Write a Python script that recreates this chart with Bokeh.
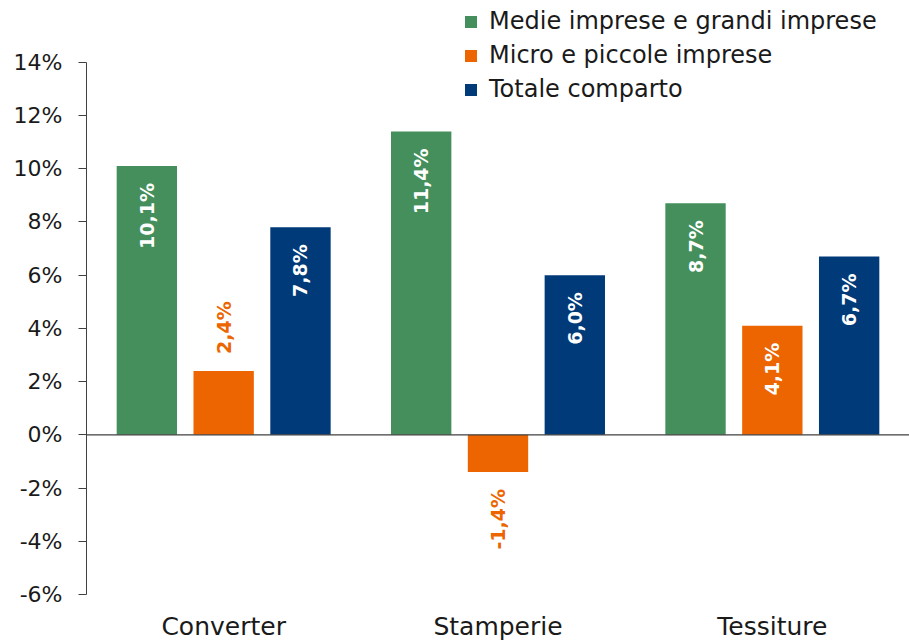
import math
from bokeh.plotting import figure
from bokeh.models import ColumnDataSource, FactorRange, Range1d, FixedTicker, PrintfTickFormatter, Span, Legend, LegendItem
from bokeh.transform import dodge
from bokeh.core.properties import value
from bokeh.embed import file_html
from bokeh.resources import INLINE

categories = ["Converter", "Stamperie", "Tessiture"]
series_names = ["Medie imprese e grandi imprese", "Micro e piccole imprese", "Totale comparto"]
medie = [10.1, 11.4, 8.7]
micro = [2.4, -1.4, 4.1]
totale = [7.8, 6.0, 6.7]
y_ticks = [-6, -4, -2, 0, 2, 4, 6, 8, 10, 12, 14]

colors = ["#448F5B", "#EC6500", "#003A78"]
FONT = "DejaVu Sans"

Y_END = 16.32
p = figure(x_range=FactorRange(*categories), y_range=Range1d(-6, Y_END),
           width=909, height=643, output_backend="svg", toolbar_location=None,
           min_border_left=86, min_border_right=0, min_border_top=0, min_border_bottom=47)
p.outline_line_color = None
p.xgrid.grid_line_color = None
p.ygrid.grid_line_color = None

src = ColumnDataSource(dict(cat=categories, medie=medie, micro=micro, totale=totale))
offsets = [-0.28, 0.0, 0.28]
fields = ["medie", "micro", "totale"]
renderers = []
for f, off, c in zip(fields, offsets, colors):
    r = p.vbar(x=dodge("cat", off, range=p.x_range), top=f, bottom=0, width=0.22,
               source=src, fill_color=c, line_color=None)
    renderers.append(r)

# value labels
px_per_unit = 596 / (Y_END + 6)
gap = 17 / px_per_unit
for f, off, c, vals in zip(fields, offsets, colors, [medie, micro, totale]):
    ys, aligns, tcols, txts = [], [], [], []
    for cat, v in zip(categories, vals):
        txt = ("%.1f%%" % v).replace(".", ",")
        if f == "micro" and (v < 3):
            if v >= 0:
                ys.append(v + gap); aligns.append("left")
            else:
                ys.append(v - gap); aligns.append("right")
            tcols.append(c)
        else:
            ys.append(v - gap); aligns.append("right"); tcols.append("white")
        txts.append(txt)
    lsrc = ColumnDataSource(dict(cat=categories, y=ys, t=txts, a=aligns, c=tcols))
    p.text(x=dodge("cat", off, range=p.x_range), y="y", text="t", source=lsrc,
           angle=math.pi / 2, text_align="a", text_baseline="middle", text_color="c",
           text_font=value(FONT), text_font_size="19px", text_font_style="bold")

p.add_layout(Span(location=0, dimension="width", line_color="#404040", line_width=1.2))

yax = p.yaxis[0]
yax.ticker = FixedTicker(ticks=y_ticks)
yax.formatter = PrintfTickFormatter(format="%d%%")
yax.bounds = (-6, 14)
yax.axis_line_color = "#404040"
yax.major_tick_line_color = "#404040"
yax.major_tick_out = 8
yax.major_tick_in = 0
yax.minor_tick_line_color = None
yax.major_label_text_font = FONT
yax.major_label_text_font_size = "22px"
yax.major_label_text_color = "#1a1a1a"
yax.major_label_standoff = 16

xax = p.xaxis[0]
xax.axis_line_color = None
xax.major_tick_line_color = None
xax.minor_tick_line_color = None
xax.major_label_text_font = FONT
xax.major_label_text_font_size = "25px"
xax.major_label_text_color = "#1a1a1a"
xax.major_label_standoff = 11

legend = Legend(items=[LegendItem(label=n, renderers=[r]) for n, r in zip(series_names, renderers)],
                location=(377, 491), orientation="vertical")
legend.label_text_font = FONT
legend.label_text_font_size = "24px"
legend.label_text_color = "#1a1a1a"
legend.glyph_width = 15
legend.glyph_height = 15
legend.label_standoff = 11
legend.spacing = 6
legend.padding = 0
legend.margin = 0
legend.border_line_color = None
legend.background_fill_alpha = 0
p.add_layout(legend)

open("out.html", "w").write(file_html(p, INLINE))
